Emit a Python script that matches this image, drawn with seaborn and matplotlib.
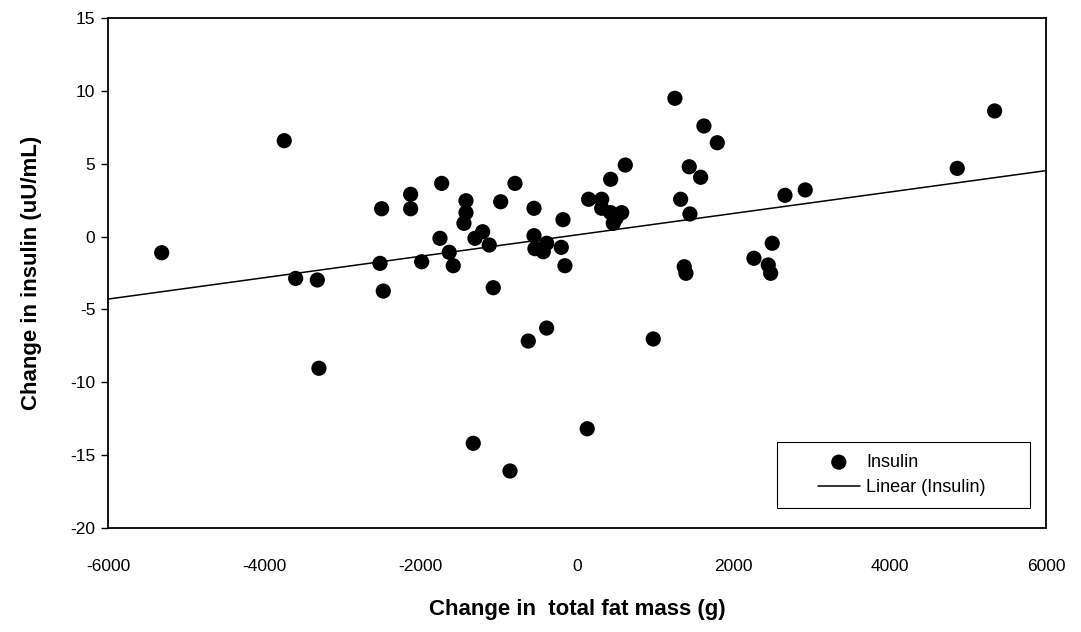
import matplotlib
matplotlib.use("Agg")
import matplotlib.pyplot as plt
import seaborn as sns
import pandas as pd
from matplotlib.patches import Rectangle

# Change in total fat mass (g) vs change in insulin (uU/mL)
fat_mass = [-5313, -3745, -3599, -3322, -3301, -2499, -2520, -2478, -2128, -2128,
            -1987, -1731, -1753, -1634, -1583, -1420, -1420, -1446, -1305, -1207,
            -1122, -1071, -976, -793, -550, -550, -538, -431, -388, -201,
            -179, -154, 149, 316, 316, 431, 431, 464, 499, 572,
            618, 1253, 1326, 1436, 1445, 1582, 1624, 1795, 1372, 1394,
            2264, 2447, 2478, 2498, 2661, 2920, 4865, 5343, -623, -388,
            -1327, -857, 131, 976]
insulin = [-1.11, 6.58, -2.87, -2.98, -9.04, 1.91, -1.84, -3.74, 2.90, 1.91,
           -1.73, 3.65, -0.12, -1.08, -2.00, 2.46, 1.64, 0.91, -0.12, 0.33,
           -0.58, -3.51, 2.39, 3.65, 1.94, 0.06, -0.83, -1.04, -0.46, -0.74,
           1.16, -2.00, 2.56, 2.56, 1.94, 3.93, 1.64, 0.91, 1.25, 1.64,
           4.91, 9.49, 2.56, 4.79, 1.55, 4.07, 7.59, 6.44, -2.07, -2.52,
           -1.49, -1.95, -2.52, -0.46, 2.83, 3.20, 4.68, 8.62, -7.17, -6.28,
           -14.19, -16.09, -13.19, -7.03]

df = pd.DataFrame({"fat": fat_mass, "insulin": insulin})

sns.set_style("white")
plt.rcParams["font.family"] = ["Liberation Sans", "DejaVu Sans"]
plt.rcParams["axes.unicode_minus"] = False
plt.rcParams["text.color"] = "black"
plt.rcParams["axes.labelcolor"] = "black"
plt.rcParams["xtick.color"] = "black"
plt.rcParams["ytick.color"] = "black"

fig = plt.figure(figsize=(10.81, 6.32), dpi=100)
ax = fig.add_axes([0.0999, 0.1646, 0.8677, 0.8069])
ax.set_xlim(-6000, 6000)
ax.set_ylim(-20, 15)

sns.scatterplot(data=df, x="fat", y="insulin", ax=ax, color="black", s=120,
                edgecolor="none", label="Insulin", zorder=3)
sns.regplot(data=df, x="fat", y="insulin", ax=ax, scatter=False, ci=None,
            truncate=False, color="black", line_kws={"linewidth": 1.1},
            label="Linear (Insulin)")
ax.set_xlim(-6000, 6000)
ax.set_ylim(-20, 15)

ax.set_xticks(range(-6000, 6001, 2000))
ax.set_yticks(range(-20, 16, 5))
ax.tick_params(axis="x", length=0, pad=22, labelsize=12.5)
ax.tick_params(axis="y", length=5, width=1, direction="out", left=True,
               pad=4, labelsize=12.5)
for sp in ax.spines.values():
    sp.set_color("black")
    sp.set_linewidth(1.3)

ax.set_xlabel("Change in  total fat mass (g)", fontsize=16, fontweight="bold",
              labelpad=18)
ax.set_ylabel("Change in insulin (uU/mL)", fontsize=16, fontweight="bold",
              labelpad=20)

# legend box drawn separately so its left padding matches the original
ax.add_patch(Rectangle((0.713, 0.039), 0.270, 0.130, transform=ax.transAxes,
                       facecolor="white", edgecolor="black", linewidth=0.8,
                       zorder=4))
leg = ax.legend(loc="center left", bbox_to_anchor=(0.757, 0.104), fontsize=13,
                frameon=False, borderpad=0, handlelength=2.3,
                handletextpad=0.35, labelspacing=0.45, borderaxespad=0)
leg.set_zorder(5)

fig.savefig("out.png", dpi=100)
